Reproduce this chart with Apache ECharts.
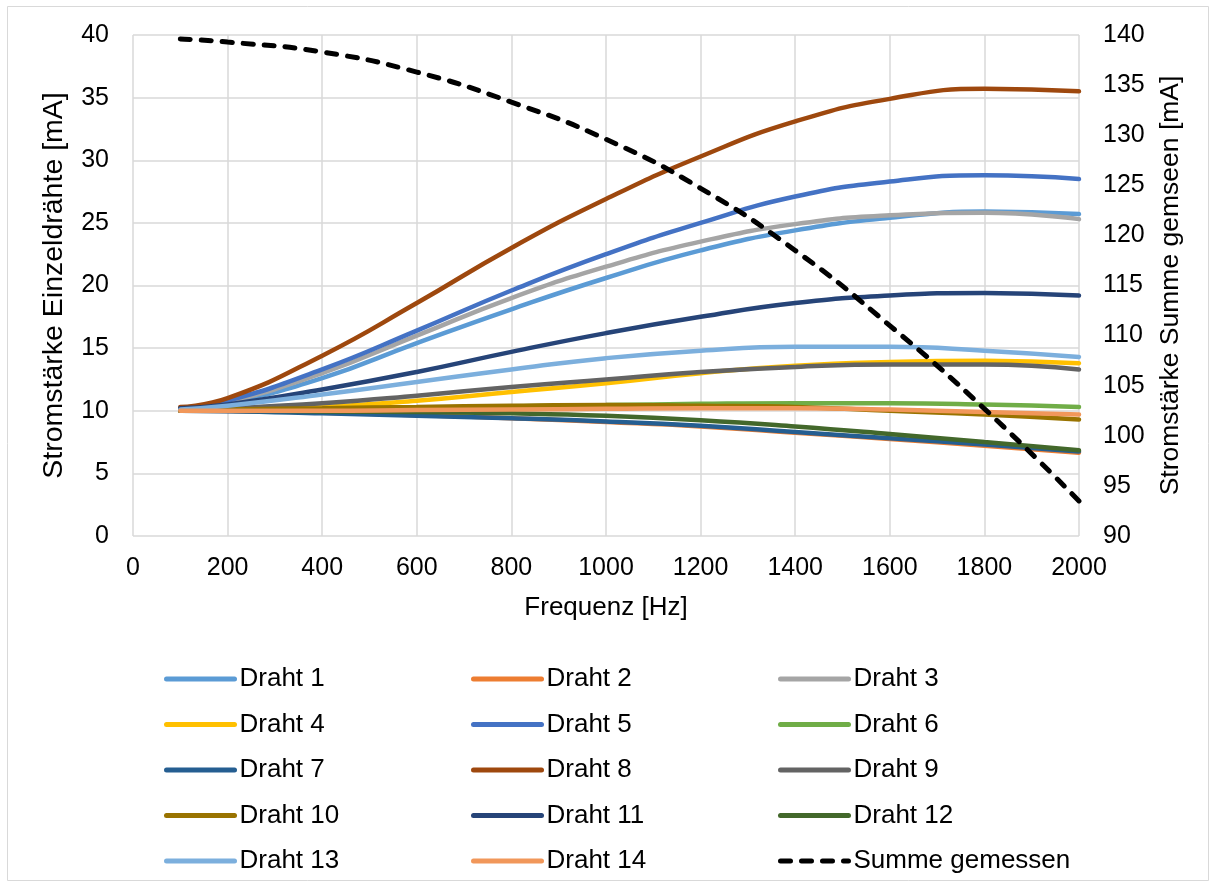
<!DOCTYPE html>
<html>
<head>
<meta charset="utf-8">
<script src="https://cdn.jsdelivr.net/npm/echarts@6/dist/echarts.min.js"></script>
<style>html,body{margin:0;padding:0;background:#fff}#c{width:1216px;height:888px}</style>
</head>
<body>
<div id="c"></div>
<script>
const freq = [100, 200, 400, 600, 800, 1000, 1200, 1400, 1600, 1800, 2000];
const draht1  = [10.1, 10.6, 12.6, 15.4, 18.1, 20.6, 22.8, 24.4, 25.4, 25.9, 25.7];
const draht2  = [10.0, 9.98, 9.85, 9.65, 9.4, 9.1, 8.75, 8.25, 7.75, 7.2, 6.65];
const draht3  = [10.1, 10.7, 13.0, 16.0, 19.0, 21.5, 23.5, 24.9, 25.6, 25.8, 25.3];
const draht4  = [10.0, 10.1, 10.3, 10.8, 11.5, 12.2, 13.0, 13.6, 13.9, 14.0, 13.8];
const draht5  = [10.2, 10.8, 13.3, 16.4, 19.6, 22.5, 25.0, 27.1, 28.3, 28.8, 28.5];
const draht6  = [10.0, 10.05, 10.1, 10.2, 10.35, 10.45, 10.55, 10.6, 10.6, 10.5, 10.3];
const draht7  = [10.0, 9.97, 9.8, 9.6, 9.4, 9.15, 8.8, 8.3, 7.8, 7.3, 6.75];
const draht8  = [10.3, 11.0, 14.4, 18.6, 23.0, 26.9, 30.3, 33.1, 34.9, 35.7, 35.5];
const draht9  = [10.1, 10.2, 10.6, 11.2, 11.9, 12.5, 13.1, 13.5, 13.7, 13.7, 13.3];
const draht10 = [10.0, 10.1, 10.2, 10.3, 10.4, 10.45, 10.4, 10.3, 10.0, 9.7, 9.3];
const draht11 = [10.2, 10.5, 11.7, 13.1, 14.7, 16.2, 17.5, 18.6, 19.2, 19.4, 19.2];
const draht12 = [10.0, 10.0, 9.95, 9.9, 9.8, 9.6, 9.25, 8.75, 8.15, 7.5, 6.85];
const draht13 = [10.1, 10.4, 11.3, 12.3, 13.3, 14.2, 14.8, 15.1, 15.1, 14.8, 14.3];
const draht14 = [10.0, 10.0, 10.0, 10.05, 10.1, 10.15, 10.2, 10.2, 10.1, 9.9, 9.7];
const summe   = [139.6, 139.3, 138.3, 136.3, 133.3, 129.6, 124.7, 118.5, 111.0, 102.7, 93.5];

const names = ['Draht 1','Draht 2','Draht 3','Draht 4','Draht 5','Draht 6','Draht 7','Draht 8','Draht 9','Draht 10','Draht 11','Draht 12','Draht 13','Draht 14'];
const values = [draht1,draht2,draht3,draht4,draht5,draht6,draht7,draht8,draht9,draht10,draht11,draht12,draht13,draht14];
const colors = ['#5B9BD5','#ED7D31','#A5A5A5','#FFC000','#4472C4','#70AD47','#255E91','#9E480E','#636363','#997300','#264478','#43682B','#7CAFDD','#F1975A'];

const font = 'Liberation Sans, Arial, sans-serif';
const fs = 25;
const series = names.map((n, i) => ({
  name: n, type: 'line', smooth: 0.5, symbol: 'none', yAxisIndex: 0,
  data: freq.map((f, j) => [f, values[i][j]]),
  lineStyle: { color: colors[i], width: 4.5, cap: 'round' },
  itemStyle: { color: colors[i] }
}));
series.push({
  name: 'Summe gemessen', type: 'line', smooth: 0.5, symbol: 'none', yAxisIndex: 1,
  data: freq.map((f, j) => [f, summe[j]]),
  lineStyle: { color: '#000', width: 5, type: [10, 11], cap: 'round' },
  itemStyle: { color: '#000' }
});

const allNames = names.concat(['Summe gemessen']);
const cols = [[], [], []];
allNames.forEach((n, i) => cols[i % 3].push(n));
const legendBase = {
  orient: 'vertical', top: 666, padding: 0, itemWidth: 68, itemHeight: 22, itemGap: 19.5,
  itemStyle: { opacity: 0 },
  lineStyle: { width: 5, cap: 'round' },
  textStyle: { fontFamily: font, fontSize: 26, lineHeight: 22, color: '#000' }
};

const chart = echarts.init(document.getElementById('c'), null, { renderer: 'canvas' });
chart.setOption({
  animation: false,
  backgroundColor: '#fff',
  graphic: [{ type: 'rect', shape: { x: 7.5, y: 6.5, width: 1201, height: 874 }, style: { fill: 'none', stroke: '#d9d9d9', lineWidth: 1 }, z: -1 }],
  grid: { left: 133, right: 137, top: 35, height: 501 },
  legend: [
    Object.assign({ left: 164, data: cols[0] }, legendBase),
    Object.assign({ left: 471, data: cols[1] }, legendBase),
    Object.assign({ left: 778, data: cols[2] }, legendBase)
  ],
  xAxis: {
    type: 'value', min: 0, max: 2000, interval: 200,
    name: 'Frequenz [Hz]', nameLocation: 'middle', nameGap: 59,
    nameTextStyle: { fontFamily: font, fontSize: 26, color: '#000' },
    axisLine: { show: false }, axisTick: { show: false },
    axisLabel: { fontFamily: font, fontSize: fs, color: '#000', margin: 20, formatter: v => String(v) },
    splitLine: { show: true, lineStyle: { color: '#d9d9d9', width: 1.5 } }
  },
  yAxis: [{
    type: 'value', min: 0, max: 40, interval: 5,
    name: 'Stromstärke Einzeldrähte [mA]', nameLocation: 'middle', nameGap: 64,
    nameTextStyle: { fontFamily: font, fontSize: 28.5, color: '#000' },
    axisLine: { show: false }, axisTick: { show: false },
    axisLabel: { fontFamily: font, fontSize: fs, color: '#000', margin: 24 },
    splitLine: { show: true, lineStyle: { color: '#d9d9d9', width: 1.5 } }
  }, {
    type: 'value', min: 90, max: 140, interval: 5, position: 'right',
    name: 'Stromstärke Summe gemseen [mA]', nameLocation: 'middle', nameGap: 78, nameRotate: 90,
    nameTextStyle: { fontFamily: font, fontSize: 26.5, color: '#000' },
    axisLine: { show: false }, axisTick: { show: false },
    axisLabel: { fontFamily: font, fontSize: fs, color: '#000', margin: 24 },
    splitLine: { show: false }
  }],
  series: series
});
</script>
</body>
</html>
